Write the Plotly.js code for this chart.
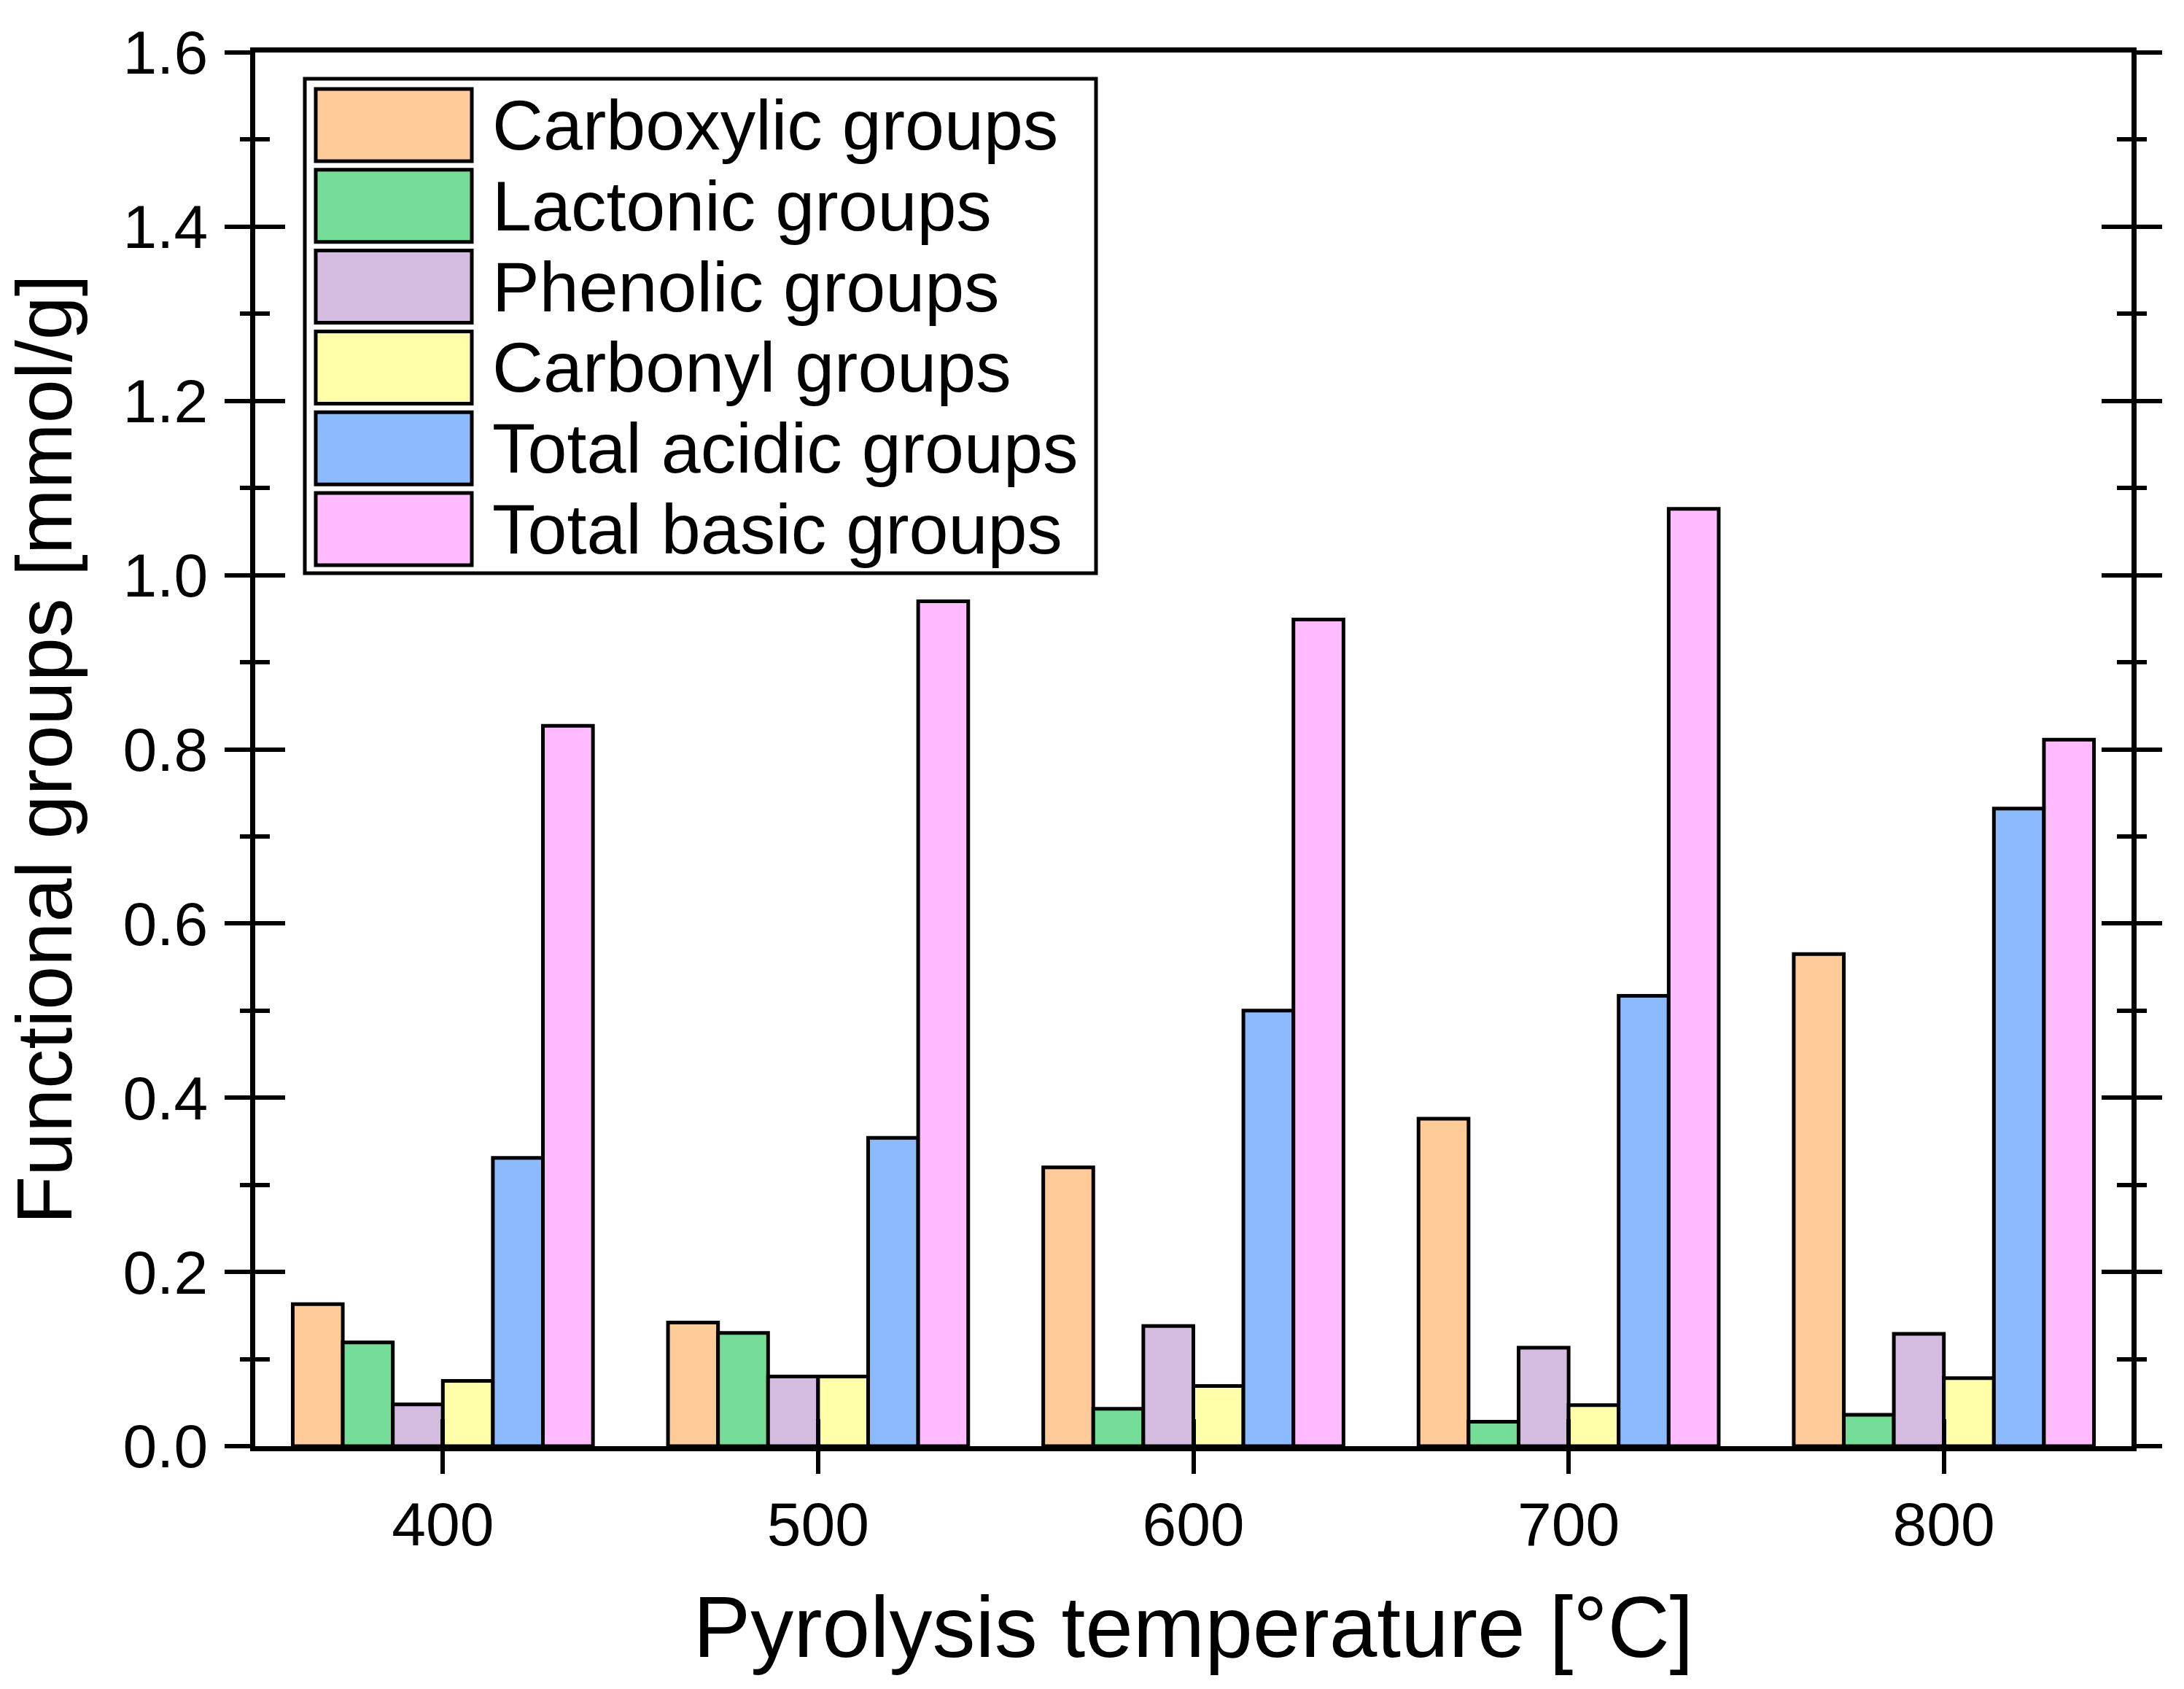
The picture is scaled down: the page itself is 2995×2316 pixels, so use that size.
<!DOCTYPE html>
<html>
<head>
<meta charset="utf-8">
<script src="https://cdn.plot.ly/plotly-3.0.1.min.js"></script>
<style>html,body{margin:0;padding:0;background:#fff;}#chart{width:2995px;height:2316px;}</style>
</head>
<body>
<div id="chart"></div>
<script>
const temperatures = [400, 500, 600, 700, 800];
const seriesNames = ["Carboxylic groups", "Lactonic groups", "Phenolic groups", "Carbonyl groups", "Total acidic groups", "Total basic groups"];
const carboxylic = [0.163, 0.142, 0.320, 0.376, 0.565];
const lactonic   = [0.119, 0.130, 0.043, 0.028, 0.036];
const phenolic   = [0.048, 0.080, 0.138, 0.113, 0.129];
const carbonyl   = [0.075, 0.080, 0.069, 0.047, 0.078];
const totalAcidic = [0.331, 0.354, 0.500, 0.517, 0.732];
const totalBasic  = [0.827, 0.970, 0.949, 1.076, 0.811];
const seriesColors = ["#FFCC99", "#74DE98", "#D4BCE0", "#FFFFAA", "#8CBAFF", "#FFBBFF"];
const yTickVals = [0, 0.2, 0.4, 0.6, 0.8, 1.0, 1.2, 1.4, 1.6];

const seriesValues = [carboxylic, lactonic, phenolic, carbonyl, totalAcidic, totalBasic];
const FONT = "Liberation Sans, Arial, sans-serif";

const traces = seriesValues.map((vals, i) => ({
  type: "bar",
  name: seriesNames[i],
  x: temperatures,
  y: vals,
  marker: {color: seriesColors[i], line: {color: "#000", width: 5}},
  showlegend: false,
  hoverinfo: "x+y+name"
}));
// empty helper trace so the second (coincident) subplot with the outer half of the crossing ticks gets drawn
traces.push({type: "scatter", mode: "markers", x: [], y: [], xaxis: "x2", yaxis: "y2",
  showlegend: false, hoverinfo: "skip"});

// Plot area in pixels
const W = 2995, H = 2316;
const L = 350, R = 2923, T = 72, B = 1983;
const px = v => (v - L) / (R - L);
const py = v => (B - v) / (B - T);

// Custom legend (large swatches as in the reference)
const shapes = [];
const annotations = [];
const legL = 418, legR = 1503, legT = 108, legB = 786;
shapes.push({type: "rect", xref: "paper", yref: "paper", x0: px(legL), x1: px(legR), y0: py(legB), y1: py(legT),
  line: {color: "#000", width: 5}, fillcolor: "#fff", layer: "above"});
const rowH = 110.8, swH = 99, swL = 433, swR = 647, firstTop = 122;
seriesNames.forEach((name, i) => {
  const top = firstTop + i * rowH;
  shapes.push({type: "rect", xref: "paper", yref: "paper", x0: px(swL), x1: px(swR), y0: py(top + swH), y1: py(top),
    line: {color: "#000", width: 5}, fillcolor: seriesColors[i], layer: "above"});
  annotations.push({xref: "paper", yref: "paper", x: px(673), y: py(top + swH / 2), xanchor: "left", yanchor: "middle",
    text: name, showarrow: false, font: {family: FONT, size: 97, color: "#000"}});
});

const layout = {
  width: W, height: H,
  margin: {l: L, r: W - R, t: T, b: H - B, pad: 0},
  paper_bgcolor: "#fff", plot_bgcolor: "rgba(0,0,0,0)",
  font: {family: FONT, color: "#000"},
  barmode: "group", bargap: 0.2, bargroupgap: 0,
  showlegend: false,
  xaxis: {
    domain: [0, 1], anchor: "y", side: "bottom",
    range: [350, 850], tickvals: temperatures, ticktext: temperatures.map(String),
    ticks: "inside", ticklen: 37, tickwidth: 6, tickcolor: "#000",
    ticklabelstandoff: 28,
    showline: true, linewidth: 7, linecolor: "#000", mirror: true,
    showgrid: false, zeroline: false,
    tickfont: {family: FONT, size: 84, color: "#000"},
    title: {text: "Pyrolysis temperature [°C]", font: {family: FONT, size: 118, color: "#000"}, standoff: 56}
  },
  yaxis: {
    domain: [0, 1], anchor: "x", side: "left",
    range: [0, 1.6], tickvals: yTickVals, tickformat: ".1f",
    ticks: "inside", ticklen: 41, tickwidth: 6, tickcolor: "#000",
    ticklabelstandoff: 41,
    minor: {dtick: 0.1, ticks: "inside", ticklen: 20, tickwidth: 6, tickcolor: "#000", showgrid: false},
    showline: true, linewidth: 7, linecolor: "#000", mirror: "ticks",
    showgrid: false, zeroline: false,
    tickfont: {family: FONT, size: 84, color: "#000"},
    title: {text: "Functional groups [mmol/g]", font: {family: FONT, size: 108, color: "#000"}, standoff: 38}
  },
  xaxis2: {
    domain: [0, 1], anchor: "y2", side: "bottom", range: [350, 850], tickvals: temperatures,
    ticks: "outside", ticklen: 37, tickwidth: 6, tickcolor: "#000",
    showticklabels: false, showline: false, showgrid: false, zeroline: false
  },
  yaxis2: {
    domain: [0, 1], anchor: "x2", side: "left", range: [0, 1.6], tickvals: yTickVals,
    ticks: "outside", ticklen: 41, tickwidth: 6, tickcolor: "#000",
    minor: {dtick: 0.1, ticks: "outside", ticklen: 20, tickwidth: 6, tickcolor: "#000", showgrid: false},
    mirror: "ticks", showline: false,
    showticklabels: false, showgrid: false, zeroline: false
  },
  shapes: shapes,
  annotations: annotations
};

Plotly.newPlot("chart", traces, layout, {displayModeBar: false, staticPlot: true});
</script>
</body>
</html>
